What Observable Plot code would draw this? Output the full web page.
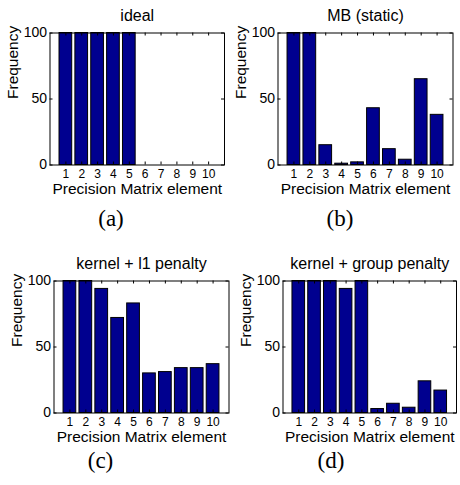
<!DOCTYPE html>
<html><head><meta charset="utf-8">
<script src="https://cdn.jsdelivr.net/npm/d3@7"></script>
<script src="https://cdn.jsdelivr.net/npm/@observablehq/plot@0.6"></script>
<style>
body{margin:0;background:#fff;}
#root{position:relative;width:460px;height:485px;overflow:hidden;background:#fff;font-family:"Liberation Sans",Arial,sans-serif;}
.panel{position:absolute;}
.cap{position:absolute;font-family:"Liberation Serif",serif;font-size:23px;line-height:23px;text-align:center;width:60px;color:#000;}
</style></head><body><div id="root"></div>
<script>
// ---- data ----
const elements = [1, 2, 3, 4, 5, 6, 7, 8, 9, 10];
const yTicks = [0, 50, 100];
const titles = ["ideal", "MB (static)", "kernel + l1 penalty", "kernel + group penalty"];
const captions = ["(a)", "(b)", "(c)", "(d)"];
const idealFreq = [100, 100, 100, 100, 100, 0, 0, 0, 0, 0];
const mbFreq = [100, 100, 15, 1, 2, 43, 12, 4, 65, 38];
const l1Freq = [100, 100, 94, 72, 83, 30, 31, 34, 34, 37];
const groupFreq = [100, 100, 100, 94, 100, 3, 7, 4, 24, 17];
const xLabel = "Precision Matrix element";
const yLabel = "Frequency";

// ---- layout ----
const layouts = [
  {left: 0,   top: 0,   width: 230, height: 200, ml: 49.5, mr: 6,   mt: 32.5, mb: 35.5, capX: 111, capY: 207},
  {left: 230, top: 0,   width: 230, height: 200, ml: 47.5, mr: 7.5, mt: 32.5, mb: 35.5, capX: 110, capY: 207},
  {left: 0,   top: 245, width: 230, height: 203, ml: 53.5, mr: 1.5, mt: 35.5, mb: 35.5, capX: 100.5, capY: 204},
  {left: 230, top: 245, width: 230, height: 203, ml: 52.5, mr: 4,   mt: 35.5, mb: 35.5, capX: 101, capY: 204}
];
const series = [idealFreq, mbFreq, l1Freq, groupFreq];

const root = document.getElementById("root");

function panel(values, title, L) {
  const data = elements.map((e, i) => ({e, v: values[i]}));
  const fw = L.width - L.ml - L.mr, fh = L.height - L.mt - L.mb;
  return Plot.plot({
    width: L.width, height: L.height,
    marginLeft: L.ml, marginRight: L.mr, marginTop: L.mt, marginBottom: L.mb,
    x: {domain: [0, 11]},
    y: {domain: [0, 100]},
    style: {fontFamily: "'Liberation Sans', Arial, sans-serif", background: "transparent", color: "black", overflow: "visible"},
    marks: [
      Plot.rectY(data, {x1: d => d.e - 0.4, x2: d => d.e + 0.4, y: "v", fill: "#00008F", stroke: "black", strokeWidth: 1}),
      Plot.tickX(elements, {x: d => d, insetTop: fh - 3, stroke: "black"}),
      Plot.tickX(elements, {x: d => d, insetBottom: fh - 3, stroke: "black"}),
      Plot.tickY(yTicks, {y: d => d, insetRight: fw - 3, stroke: "black"}),
      Plot.tickY(yTicks, {y: d => d, insetLeft: fw - 3, stroke: "black"}),
      Plot.frame({stroke: "black"}),
      Plot.axisX(elements, {tickSize: 0, tickPadding: 4, fontSize: 12, label: null, tickFormat: d => String(d)}),
      Plot.axisY(yTicks, {tickSize: 0, tickPadding: 3, fontSize: 14, label: null, tickFormat: d => String(d)}),
      Plot.text([title], {frameAnchor: "top", dy: -23, lineAnchor: "top", fontSize: 16}),
      Plot.text([xLabel], {frameAnchor: "bottom", dy: 18, lineAnchor: "top", fontSize: 15.5}),
      Plot.text([yLabel], {frameAnchor: "left", dx: -43, rotate: -90, lineAnchor: "top", fontSize: 15.5})
    ]
  });
}

series.forEach((vals, k) => {
  const L = layouts[k];
  const div = document.createElement("div");
  div.className = "panel";
  div.style.left = L.left + "px";
  div.style.top = L.top + "px";
  div.appendChild(panel(vals, titles[k], L));
  root.appendChild(div);
  const cap = document.createElement("div");
  cap.className = "cap";
  cap.textContent = captions[k];
  cap.style.left = (L.left + L.capX - 30) + "px";
  cap.style.top = (L.top + L.capY) + "px";
  root.appendChild(cap);
});
</script></body></html>
